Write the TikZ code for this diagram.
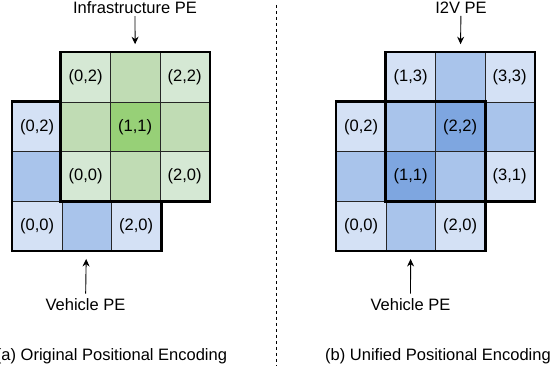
\documentclass[tikz,border=0pt]{standalone}
\usepackage{fontspec}
\setmainfont{Liberation Sans}
\usetikzlibrary{arrows.meta}
\definecolor{gLight}{HTML}{D5E8D4}
\definecolor{gMid}{HTML}{C0DCB4}
\definecolor{gDark}{HTML}{97D077}
\definecolor{bLight}{HTML}{D4E1F5}
\definecolor{bMid}{HTML}{A9C4EB}
\definecolor{bDark}{HTML}{7EA6E0}
\tikzset{
  cell/.style={draw=black!85, line width=0.8pt, minimum size=49.5pt, inner sep=0pt, anchor=south west},
  outline/.style={line width=2.6pt},
  lbl/.style={inner sep=2pt},
  pe/.style={-{Stealth[length=7.5pt,width=7pt]}, line width=0.9pt}
}
\begin{document}
\begin{tikzpicture}[x=1pt,y=1pt,font=\fontsize{16.5}{19}\selectfont]
  \useasboundingbox (0,0) rectangle (558,366);
  % Panel (a): vehicle grid under infrastructure grid
  \foreach \i/\j/\c/\t in {0/0/bLight/{(0,0)}, 1/0/bMid/{}, 2/0/bLight/{(2,0)},
                           0/1/bMid/{}, 0/2/bLight/{(0,2)}}
    \node[cell, fill=\c] (v\i\j) at ({12+49.5*\i},{115+49.5*\j}) {\t};
  \draw[outline] (v00.south west) rectangle (v20.east |- v02.north);
  \foreach \i/\j/\c/\t in {0/0/gLight/{(0,0)}, 1/0/gMid/{}, 2/0/gLight/{(2,0)},
                           0/1/gMid/{}, 1/1/gDark/{(1,1)}, 2/1/gMid/{},
                           0/2/gLight/{(0,2)}, 1/2/gMid/{}, 2/2/gLight/{(2,2)}}
    \node[cell, fill=\c] (g\i\j) at ({60.5+49.5*\i},{164.5+49.5*\j}) {\t};
  \draw[outline] (g00.south west) rectangle (g22.north east);
  \node[lbl] (infra) at (135,358) {Infrastructure PE};
  \draw[pe, shorten >=8pt] (infra) -- (g12);
  \node[lbl] (vehA) at (85.5,61) {Vehicle PE};
  \draw[pe, shorten <=3pt, shorten >=8pt] (vehA) -- (v10);
  \node (capA) at (111.5,10) {(a) Original Positional Encoding};
  % divider
  \draw[line width=0.8pt, dash pattern=on 3pt off 3pt] (276,361) -- (276,0);
  % Panel (b): unified grid
  \foreach \i/\j/\c/\t in {0/0/bLight/{(0,0)}, 1/0/bMid/{}, 2/0/bLight/{(2,0)},
                           0/1/bMid/{}, 1/1/bDark/{(1,1)}, 2/1/bMid/{}, 3/1/bLight/{(3,1)},
                           0/2/bLight/{(0,2)}, 1/2/bMid/{}, 2/2/bDark/{(2,2)}, 3/2/bMid/{},
                           1/3/bLight/{(1,3)}, 2/3/bMid/{}, 3/3/bLight/{(3,3)}}
    \node[cell, fill=\c] (u\i\j) at ({336+49.5*\i},{115+49.5*\j}) {\t};
  \draw[outline] (u00.south west) rectangle (u22.north east);
  \draw[outline] (u11.south west) rectangle (u33.north east);
  \node[lbl] (itov) at (461,358) {I2V PE};
  \draw[pe, shorten >=8pt] (itov) -- (u23);
  \node[lbl] (vehB) at (410.5,61) {Vehicle PE};
  \draw[pe, shorten <=3pt, shorten >=8pt] (vehB) -- (u10);
  \node (capB) at (438,10) {(b) Unified Positional Encoding};
\end{tikzpicture}
\end{document}
